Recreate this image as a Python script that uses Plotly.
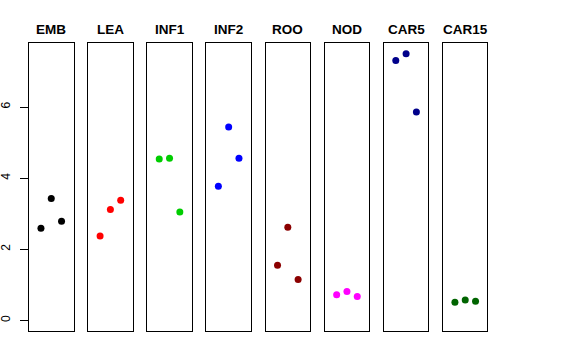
import plotly.graph_objects as go

panels = ["EMB", "LEA", "INF1", "INF2", "ROO", "NOD", "CAR5", "CAR15"]
colors = ["#000000", "#FF0000", "#00CD00", "#0000FF", "#8B0000", "#FF00FF", "#00008B", "#006400"]
rep_x = [1, 2, 3]
values = {
    "EMB": [2.59, 3.43, 2.79],
    "LEA": [2.37, 3.12, 3.38],
    "INF1": [4.54, 4.56, 3.05],
    "INF2": [3.77, 5.44, 4.56],
    "ROO": [1.55, 2.62, 1.15],
    "NOD": [0.72, 0.81, 0.67],
    "CAR5": [7.31, 7.50, 5.86],
    "CAR15": [0.51, 0.57, 0.54],
}
y_ticks = [0, 2, 4, 6]

W, H = 576, 360
left0, step, pw = 29.0, 59.14, 44.5
top, bottom = 43.0, 331.0

fig = go.Figure()
layout = dict(
    width=W, height=H, margin=dict(l=0, r=0, t=0, b=0, autoexpand=False),
    paper_bgcolor="white", plot_bgcolor="white", showlegend=False,
    font=dict(family="Liberation Sans, Arial, sans-serif", color="black"),
)
annotations = []
for i, name in enumerate(panels):
    n = i + 1
    xa = "xaxis" if n == 1 else f"xaxis{n}"
    ya = "yaxis" if n == 1 else f"yaxis{n}"
    xr = "x" if n == 1 else f"x{n}"
    yr = "y" if n == 1 else f"y{n}"
    l = left0 + step * i
    fig.add_trace(go.Scatter(
        x=rep_x, y=values[name], mode="markers", xaxis=xr, yaxis=yr,
        marker=dict(color=colors[i], size=7, line=dict(width=0)),
        cliponaxis=False, hoverinfo="skip",
    ))
    layout[xa] = dict(domain=[l / W, (l + pw) / W], range=[-0.16, 4.16],
                      showticklabels=False, ticks="", showgrid=False, zeroline=False,
                      showline=True, mirror=True, linecolor="black", linewidth=1,
                      anchor=yr, fixedrange=True, automargin=False)
    ydict = dict(domain=[(H - bottom) / H, (H - top) / H], range=[-0.3, 7.8],
                 showgrid=False, zeroline=False, showline=True, mirror=True,
                 linecolor="black", linewidth=1, anchor=xr, fixedrange=True,
                 automargin=False)
    if n == 1:
        ydict.update(tickvals=y_ticks, ticktext=[str(t) for t in y_ticks],
                     ticks="outside", ticklen=8, tickcolor="black", tickwidth=1,
                     tickangle=-90, tickfont=dict(size=12, color="black"),
                     ticklabelstandoff=5)
    else:
        ydict.update(showticklabels=False, ticks="")
    layout[ya] = ydict
    annotations.append(dict(
        text=f"<b>{name}</b>", x=(l + pw / 2) / W, y=(H - 29) / H,
        xref="paper", yref="paper", xanchor="center", yanchor="middle",
        showarrow=False, font=dict(size=13.5, color="black"),
    ))
layout["annotations"] = annotations
fig.update_layout(**layout)
fig.write_html("out.html", config={"displayModeBar": False},
               post_script="document.body.style.margin='0';")
